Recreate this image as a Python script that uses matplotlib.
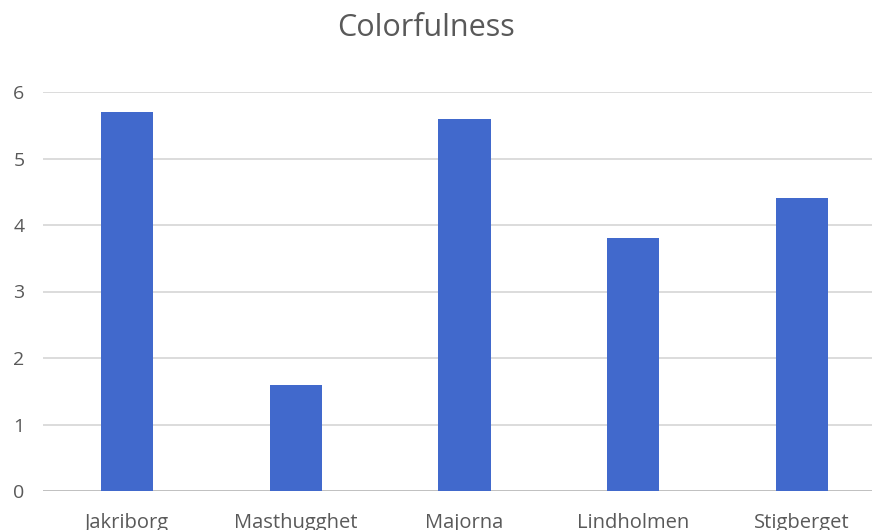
import matplotlib
matplotlib.use("Agg")
import matplotlib.pyplot as plt

categories = ["Jakriborg", "Masthugghet", "Majorna", "Lindholmen", "Stigberget"]
values = [5.7, 1.6, 5.6, 3.8, 4.4]
yticks = [0, 1, 2, 3, 4, 5, 6]

plt.rcParams["font.family"] = ["Open Sans", "DejaVu Sans"]

fig = plt.figure(figsize=(8.72, 5.30), dpi=100)
ax = fig.add_axes([42.5 / 872, 39 / 530, 844 / 872, 399 / 530])

x = range(len(categories))
ax.bar(x, values, width=0.31, color="#4169CC", zorder=3)

ax.set_xlim(-0.5, len(categories) - 0.5)
ax.set_ylim(0, 6)
ax.set_yticks(yticks)
ax.set_xticks(list(x))
ax.set_xticklabels(categories)

ax.grid(axis="y", color="#d9d9d9", linewidth=1.3, zorder=0)
ax.axhline(0, color="#bfbfbf", linewidth=1.3, zorder=2)
for s in ax.spines.values():
    s.set_visible(False)
ax.tick_params(axis="both", length=0, labelsize=14, colors="#595959")
ax.tick_params(axis="y", pad=13)
ax.tick_params(axis="x", labelsize=14.5, pad=16)

fig.text(0.4885, 1 - 28 / 530, "Colorfulness", ha="center", va="center",
         fontsize=22, color="#595959")

fig.savefig("out.png", dpi=100)
